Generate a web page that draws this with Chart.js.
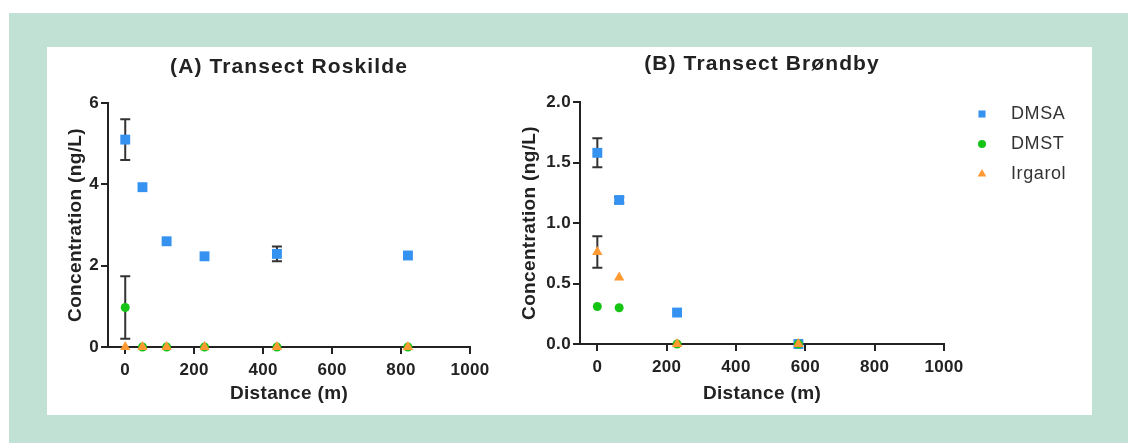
<!DOCTYPE html>
<html>
<head>
<meta charset="utf-8">
<script src="https://cdn.jsdelivr.net/npm/chart.js@4.4.0/dist/chart.umd.min.js"></script>
<style>
  body { margin: 0; background: #fff; }
  #frame { position: absolute; left: 9px; top: 13px; width: 1119px; height: 430px; background: #c0e1d3; }
  #panel { position: absolute; left: 47px; top: 47px; width: 1045px; height: 368px; background: #fff; }
  canvas { position: absolute; top: 47px; }
  #chartA { left: 47px; }
  #chartB { left: 507px; }
</style>
</head>
<body>
<div id="frame"></div>
<div id="panel"></div>
<canvas id="chartA" width="460" height="368"></canvas>
<canvas id="chartB" width="581" height="368"></canvas>
<script>
// (A) Roskilde transect
const distanceA = [0, 50, 120, 230, 440, 820];
const dmsaA = [5.10, 3.93, 2.60, 2.23, 2.29, 2.25];
const dmsaErrA = [0.50, 0, 0, 0, 0.18, 0];
const dmstA = [0.97, 0, 0, 0, 0, 0];
const dmstErrA = [0.77, 0, 0, 0, 0, 0];
const irgarolA = [0, 0, 0, 0, 0, 0];

// (B) Brøndby transect
const distanceB = [0, 63, 230, 580];
const dmsaB = [1.58, 1.19, 0.26, 0];
const dmsaErrB = [0.12, 0.025, 0, 0];
const dmstB = [0.31, 0.30, 0, 0];
const irgarolB = [0.76, 0.55, 0, 0];
const irgarolErrB = [0.13, 0, 0, 0];

const xTicks = [0, 200, 400, 600, 800, 1000];
const yTicksA = [0, 2, 4, 6];
const yTicksB = [0, 0.5, 1.0, 1.5, 2.0];

const seriesNames = ['DMSA', 'DMST', 'Irgarol'];
const colors = ['#3592f0', '#16c416', '#ff9a33'];
const shapes = ['rect', 'circle', 'triangle'];
const radii = [7, 4.5, 6];

const FONT = '"Liberation Sans", Arial, sans-serif';
const INK = '#222';
Chart.defaults.font.family = FONT;

const toPoints = (xs, ys) => xs.map((x, i) => ({ x: x, y: ys[i] }));

// vertical error bars with caps, under the markers
const errorBars = {
  id: 'errorBars',
  beforeDatasetsDraw(chart) {
    const ctx = chart.ctx;
    const yScale = chart.scales.y;
    ctx.save();
    ctx.strokeStyle = '#333';
    ctx.lineWidth = 2;
    chart.data.datasets.forEach((ds, i) => {
      if (!ds.errors) return;
      chart.getDatasetMeta(i).data.forEach((pt, j) => {
        const e = ds.errors[j];
        if (!e) return;
        const v = ds.data[j].y;
        const top = yScale.getPixelForValue(v + e);
        const bot = yScale.getPixelForValue(v - e);
        ctx.beginPath();
        ctx.moveTo(pt.x, top); ctx.lineTo(pt.x, bot);
        ctx.moveTo(pt.x - 5, top); ctx.lineTo(pt.x + 5, top);
        ctx.moveTo(pt.x - 5, bot); ctx.lineTo(pt.x + 5, bot);
        ctx.stroke();
      });
    });
    ctx.restore();
  }
};

// title centred over the plot area
const panelTitle = {
  id: 'panelTitle',
  beforeDraw(chart) {
    chart.ctx.letterSpacing = '0.35px';
  },
  afterDraw(chart, args, opts) {
    const { ctx, chartArea } = chart;
    ctx.save();
    ctx.font = 'bold 21px ' + FONT;
    ctx.letterSpacing = '1.1px';
    ctx.fillStyle = INK;
    ctx.textAlign = 'center';
    ctx.textBaseline = 'middle';
    ctx.fillText(opts.text, (chartArea.left + chartArea.right) / 2, opts.y);
    ctx.restore();
  }
};

// legend to the right of panel B
const sideLegend = {
  id: 'sideLegend',
  afterDraw(chart, args, opts) {
    const ctx = chart.ctx;
    ctx.save();
    ctx.font = '18px ' + FONT;
    ctx.letterSpacing = '0.6px';
    ctx.textBaseline = 'middle';
    chart.data.datasets.forEach((ds, i) => {
      const y = opts.top + i * opts.gap;
      ctx.fillStyle = ds.backgroundColor;
      Chart.helpers.drawPoint(ctx, { pointStyle: ds.pointStyle, radius: opts.radii[i], borderWidth: 0, rotation: 0 }, opts.x, y);
      ctx.fillStyle = '#333';
      ctx.fillText(ds.label, opts.textX, y);
    });
    ctx.restore();
  }
};

function makeDatasets(xs, series, errors) {
  return series.map((ys, i) => ({
    label: seriesNames[i],
    data: toPoints(xs, ys),
    errors: errors[i],
    pointStyle: shapes[i],
    pointRadius: radii[i],
    backgroundColor: colors[i],
    borderWidth: 0,
    order: 2 - i,
    clip: false
  }));
}

function makeChart(id, cfg) {
  return new Chart(document.getElementById(id), {
    type: 'scatter',
    data: { datasets: makeDatasets(cfg.xs, cfg.series, cfg.errors) },
    options: {
      responsive: false,
      animation: false,
      events: [],
      layout: { padding: cfg.padding },
      plugins: {
        legend: { display: false },
        tooltip: { enabled: false },
        panelTitle: { text: cfg.title, y: cfg.titleY },
        sideLegend: cfg.legend
      },
      scales: {
        x: {
          type: 'linear',
          min: -50,
          max: 1000,
          afterBuildTicks: s => { s.ticks = xTicks.map(v => ({ value: v })); },
          afterFit: s => { s.height = cfg.xHeight; },
          grid: { drawOnChartArea: false, tickLength: 7, color: INK, lineWidth: 2 },
          border: { color: INK, width: 2 },
          ticks: { color: INK, font: { size: 17, weight: 'bold' }, padding: 6, maxRotation: 0, callback: v => String(v) },
          title: { display: true, text: 'Distance (m)', color: INK, font: { size: 19, weight: 'bold' }, padding: { top: 0, bottom: cfg.xTitlePad } }
        },
        y: {
          type: 'linear',
          min: 0,
          max: cfg.yMax,
          afterBuildTicks: s => { s.ticks = cfg.yTicks.map(v => ({ value: v })); },
          afterFit: s => { s.width = cfg.yWidth; },
          grid: { drawOnChartArea: false, tickLength: 7, color: INK, lineWidth: 2 },
          border: { color: INK, width: 2 },
          ticks: { color: INK, font: { size: 17, weight: 'bold' }, padding: 2, callback: cfg.yFormat },
          title: { display: true, text: 'Concentration (ng/L)', color: INK, font: { size: 19, weight: 'bold' }, padding: { top: cfg.yTitlePad, bottom: 0 } }
        }
      }
    },
    plugins: cfg.legend ? [errorBars, panelTitle, sideLegend] : [errorBars, panelTitle]
  });
}

makeChart('chartA', {
  xs: distanceA,
  series: [dmsaA, dmstA, irgarolA],
  errors: [dmsaErrA, dmstErrA, null],
  title: '(A) Transect Roskilde',
  titleY: 20,
  padding: { top: 56, right: 37, bottom: 0, left: 0 },
  xHeight: 68,
  yWidth: 61,
  xTitlePad: 9.6,
  yTitlePad: 17.6,
  yMax: 6,
  yTicks: yTicksA,
  yFormat: v => String(v)
});

makeChart('chartB', {
  xs: distanceB,
  series: [dmsaB, dmstB, irgarolB],
  errors: [dmsaErrB, null, irgarolErrB],
  title: '(B) Transect Brøndby',
  titleY: 17,
  padding: { top: 55, right: 144, bottom: 0, left: 0 },
  xHeight: 71,
  yWidth: 73,
  xTitlePad: 9.9,
  yTitlePad: 11.6,
  yMax: 2,
  yTicks: yTicksB,
  yFormat: v => v.toFixed(1),
  legend: { x: 475, textX: 504, top: 67, gap: 30, radii: [5, 4, 5] }
});
</script>
</body>
</html>
